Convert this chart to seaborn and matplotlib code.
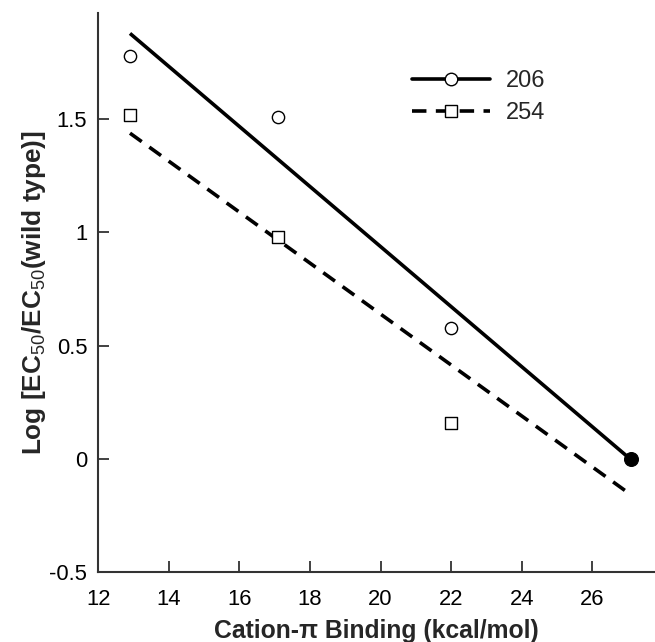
import numpy as np
import pandas as pd
import matplotlib
matplotlib.use("Agg")
import matplotlib.pyplot as plt
from matplotlib.lines import Line2D
import seaborn as sns

# Dados
energia = [12.9, 17.1, 22.0]
log_206 = [1.78, 1.51, 0.58]
log_254 = [1.52, 0.98, 0.16]
# ponto do tipo selvagem (comum às duas séries)
energia_wt = [27.1]
log_wt = [0.0]
series = ["206", "254"]

sns.set_style("ticks")
plt.rcParams["font.family"] = ["Liberation Sans", "DejaVu Sans"]
plt.rcParams["mathtext.fontset"] = "custom"
plt.rcParams["mathtext.rm"] = "Liberation Sans"
plt.rcParams["mathtext.default"] = "rm"

df_206 = pd.DataFrame({"x": energia + energia_wt, "y": log_206 + log_wt})
df_254 = pd.DataFrame({"x": energia + energia_wt, "y": log_254 + log_wt})

fig = plt.figure(figsize=(6.55, 6.42), dpi=100)
ax = fig.add_axes([0.15, 0.109, 0.85, 0.871])

tracos = (4.0, 2.6)

# Retas de regressão
sns.regplot(data=df_206, x="x", y="y", ax=ax, scatter=False, ci=None, truncate=True,
            line_kws={"color": "black", "lw": 2.6, "solid_capstyle": "butt"})
sns.regplot(data=df_254, x="x", y="y", ax=ax, scatter=False, ci=None, truncate=True,
            line_kws={"color": "black", "lw": 2.6, "dashes": tracos})

# Pontos
sns.scatterplot(x=energia, y=log_206, ax=ax, marker="o", s=78, facecolor="white",
                edgecolor="black", linewidth=1.0, zorder=5)
sns.scatterplot(x=energia, y=log_254, ax=ax, marker="s", s=78, facecolor="white",
                edgecolor="black", linewidth=1.0, zorder=5)
sns.scatterplot(x=energia_wt, y=log_wt, ax=ax, marker="o", s=100, color="black",
                edgecolor="black", zorder=6)

ax.set_xlim(12, 27.78)
ax.set_ylim(-0.5, 1.97)
ax.set_xticks([12, 14, 16, 18, 20, 22, 24, 26])
ax.set_yticks([-0.5, 0, 0.5, 1, 1.5])
ax.set_yticklabels(["-0.5", "0", "0.5", "1", "1.5"])
ax.tick_params(direction="in", length=8, width=1.3, labelsize=15.8, colors="#333333",
               labelcolor="black")
ax.tick_params(axis="x", pad=12)
ax.tick_params(axis="y", pad=8)
for lado in ["top", "right"]:
    ax.spines[lado].set_visible(False)
for lado in ["left", "bottom"]:
    ax.spines[lado].set_linewidth(1.5)
    ax.spines[lado].set_color("#333333")

ax.set_xlabel("Cation-π Binding (kcal/mol)", fontsize=17.8, fontweight="bold", labelpad=7)
ax.set_ylabel("Log [EC$_{50}$/EC$_{50}$(wild type)]", fontsize=18.8, fontweight="bold", labelpad=1)

handles = [
    Line2D([], [], color="black", lw=2.6, marker="o", markersize=9,
           markerfacecolor="white", markeredgecolor="black", markeredgewidth=1.0),
    Line2D([], [], color="black", lw=2.6, dashes=tracos, marker="s", markersize=9,
           markerfacecolor="white", markeredgecolor="black", markeredgewidth=1.0),
]
ax.legend(handles, series, loc="upper left", bbox_to_anchor=(0.525, 0.935), frameon=False,
          fontsize=17, handlelength=3.3, handletextpad=0.7, labelspacing=0.4)

plt.savefig("out.png", dpi=100)
